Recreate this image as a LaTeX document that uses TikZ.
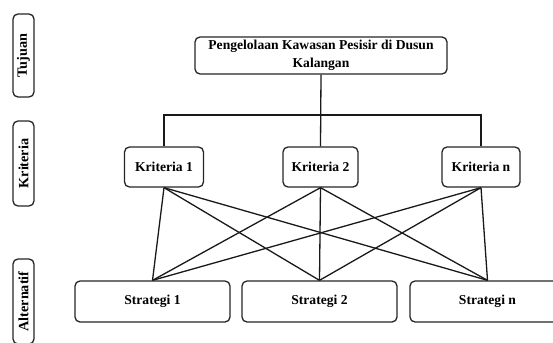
\documentclass[tikz,border=0pt]{standalone}
\usepackage{fontspec}
\setmainfont{Liberation Serif}
\usepackage{tikz}
\usetikzlibrary{calc}

\begin{document}
\begin{tikzpicture}[x=1pt, y=-1pt, thick,
    box/.style={draw=black!85, line width=1.3pt, rounded corners=5pt,
        align=center, inner sep=0pt,
        font=\fontsize{13.6}{18}\selectfont\bfseries},
    side/.style={box, rotate=90, minimum height=21pt,
        font=\fontsize{14.2}{16}\selectfont\bfseries},
    link/.style={draw=black!90, line width=1.3pt}]
    \clip (0,0) rectangle (553,342);
    \fill[white] (0,0) rectangle (553,342);
    % left labels
    \node[side, minimum width=83pt] (tujuan) at (23.5,55.5) {Tujuan};
    \node[side, minimum width=85pt] (kriteria) at (23.5,163.5) {Kriteria};
    \node[side, minimum width=85pt] (alternatif) at (23.5,301.5) {Alternatif};
    % goal
    \node[box, minimum width=252pt, minimum height=37pt] (goal) at (321,55.5)
        {Pengelolaan Kawasan Pesisir di Dusun\\Kalangan};
    % criteria
    \node[box, minimum width=79pt, minimum height=40pt] (k1) at (164,167) {Kriteria 1};
    \node[box, minimum width=75pt, minimum height=40pt] (k2) at (320.5,167) {Kriteria 2};
    \node[box, minimum width=78pt, minimum height=40pt] (kn) at (481,167) {Kriteria n};
    % alternatives
    \node[box, minimum width=155pt, minimum height=41pt] (s1) at (152.5,301.5) {Strategi 1};
    \node[box, minimum width=155pt, minimum height=41pt] (s2) at (319.5,301.5) {Strategi 2};
    \node[box, minimum width=155pt, minimum height=41pt] (sn) at (487.5,301.5) {Strategi n};
    \coordinate (bar) at (0,115);
    \draw[link] (goal.south) -- (k2.north);
    \draw[link] (k1.north) -- (k1.north |- bar) -| (kn.north);
    \foreach \k in {k1,k2,kn}
        \foreach \s in {s1,s2,sn}
            \draw[link] (\k.south) -- (\s.north);
\end{tikzpicture}
\end{document}
